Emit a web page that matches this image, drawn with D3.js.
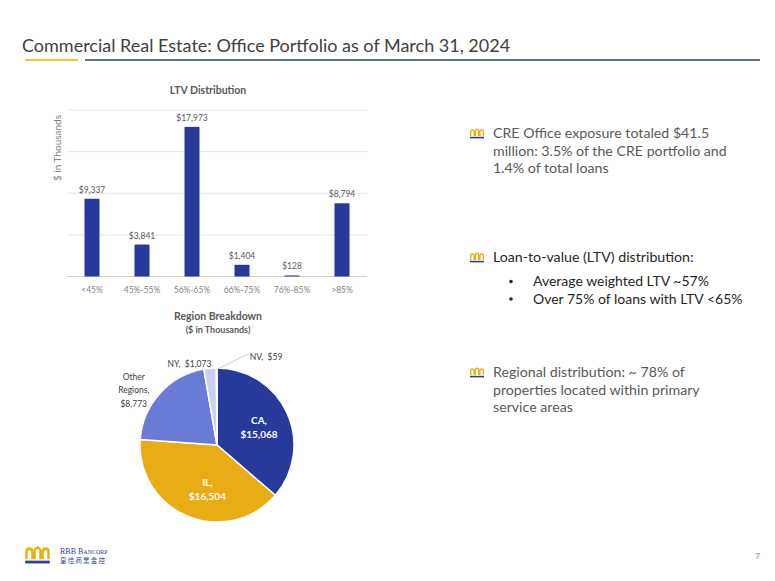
<!DOCTYPE html>
<html lang="en">
<head>
    <meta charset="utf-8">
    <title>Commercial Real Estate: Office Portfolio</title>
    <script src="https://d3js.org/d3.v7.min.js"></script>
    <style>
        body { margin: 0; background: #fff; }
        svg { display: block; font-family: Lato, "Open Sans", sans-serif; }
    </style>
</head>
<body>
    <svg id="chart" width="775" height="581"></svg>
    <script>
        // LTV distribution data ($ in thousands)
        const ltvBuckets = ["<45%", "45%-55%", "56%-65%", "66%-75%", "76%-85%", ">85%"];
        const ltvValues = [9337, 3841, 17973, 1404, 128, 8794];
        const ltvTicks = [0, 5000, 10000, 15000, 20000];

        // Region breakdown ($ in thousands)
        const regions = ["CA", "IL", "Other Regions", "NY", "NV"];
        const regionValues = [15068, 16504, 8773, 1073, 59];
        const regionColors = ["#27399a", "#e8ad14", "#6a7bd6", "#c9d0f0", "#dde2f6"];

        // Right-hand bullet text
        const bullets = [
            { lines: ["CRE Office exposure totaled $41.5", "million: 3.5% of the CRE portfolio and", "1.4% of total loans"], sub: [] },
            { lines: ["Loan-to-value (LTV) distribution:"], sub: ["Average weighted LTV ~57%", "Over 75% of loans with LTV <65%"] },
            { lines: ["Regional distribution: ~ 78% of", "properties located within primary", "service areas"], sub: [] }
        ];

        const svg = d3.select("#chart");

        // Header
        svg.append("text")
            .attr("x", 22).attr("y", 52)
            .attr("font-size", 18)
            .attr("fill", "#404040")
            .text("Commercial Real Estate: Office Portfolio as of March 31, 2024");
        svg.append("line").attr("x1", 25).attr("x2", 78).attr("y1", 60).attr("y2", 60)
            .attr("stroke", "#f2c62f").attr("stroke-width", 2);
        svg.append("line").attr("x1", 85).attr("x2", 760).attr("y1", 60).attr("y2", 60)
            .attr("stroke", "#2a3f7a").attr("stroke-width", 1.6);

        // ---- LTV bar chart ----
        const x = d3.scaleBand().domain(ltvBuckets).range([67, 367]).paddingInner(0.7).paddingOuter(0.35);
        const y = d3.scaleLinear().domain([0, 20000]).range([276.5, 110]);

        const bar = svg.append("g");
        bar.append("text")
            .attr("x", 208).attr("y", 94)
            .attr("text-anchor", "middle").attr("font-size", 10.5).attr("font-weight", "bold")
            .attr("fill", "#595959")
            .text("LTV Distribution");

        bar.append("g")
            .selectAll("line")
            .data(ltvTicks)
            .join("line")
            .attr("x1", 67).attr("x2", 367)
            .attr("y1", d => y(d)).attr("y2", d => y(d))
            .attr("stroke", d => d === 0 ? "#d0d0d0" : "#e6e6e6")
            .attr("stroke-width", 1);

        bar.append("g")
            .selectAll("rect")
            .data(ltvValues)
            .join("rect")
            .attr("x", (d, i) => x(ltvBuckets[i]))
            .attr("width", x.bandwidth())
            .attr("y", d => y(d))
            .attr("height", d => y(0) - y(d))
            .attr("fill", "#27399a");

        bar.append("g")
            .selectAll("text")
            .data(ltvValues)
            .join("text")
            .attr("x", (d, i) => x(ltvBuckets[i]) + x.bandwidth() / 2)
            .attr("y", d => y(d) - 6)
            .attr("text-anchor", "middle")
            .attr("font-size", 8.5)
            .attr("fill", "#595959")
            .text(d => "$" + d3.format(",")(d));

        const xAxis = bar.append("g")
            .attr("transform", `translate(0,${y(0)})`)
            .call(d3.axisBottom(x).tickSize(0).tickPadding(10));
        xAxis.select(".domain").remove();
        xAxis.selectAll("text")
            .attr("font-family", "Lato, sans-serif")
            .attr("font-size", 8.5)
            .attr("fill", "#7f7f7f");

        bar.append("text")
            .attr("transform", "translate(61,148) rotate(-90)")
            .attr("text-anchor", "middle")
            .attr("font-size", 10)
            .attr("fill", "#7f7f7f")
            .text("$ in Thousands");

        // ---- Region pie ----
        const cx = 217, cy = 445, r = 77;
        const pie = d3.pie().sort(null).value(d => d)(regionValues);
        const arc = d3.arc().innerRadius(0).outerRadius(r);

        const pg = svg.append("g");
        pg.append("text")
            .attr("x", 218).attr("y", 320)
            .attr("text-anchor", "middle").attr("font-size", 10.5).attr("font-weight", "bold")
            .attr("fill", "#595959")
            .text("Region Breakdown");
        pg.append("text")
            .attr("x", 218).attr("y", 333)
            .attr("text-anchor", "middle").attr("font-size", 9).attr("font-weight", "bold")
            .attr("fill", "#595959")
            .text("($ in Thousands)");

        const slices = pg.append("g").attr("transform", `translate(${cx},${cy})`);
        slices.selectAll("path")
            .data(pie)
            .join("path")
            .attr("d", arc)
            .attr("fill", (d, i) => regionColors[i])
            .attr("stroke", "#fff")
            .attr("stroke-width", 1.5);

        // labels: inside for big slices, outside for the rest
        const fmt = d => "$" + d3.format(",")(d);
        const mid = d => (d.startAngle + d.endAngle) / 2;
        const at = (d, k) => [Math.sin(mid(d)) * r * k, -Math.cos(mid(d)) * r * k];

        pie.forEach((d, i) => {
            const name = regions[i];
            if (i < 2) {
                let [lx, ly] = at(d, 0.6);
                if (name === "IL") lx += 8;
                const t = slices.append("text")
                    .attr("text-anchor", "middle")
                    .attr("font-size", 10).attr("font-weight", "bold").attr("fill", "#fff");
                t.append("tspan").attr("x", lx).attr("y", ly - 2).text(name + ",");
                t.append("tspan").attr("x", lx).attr("y", ly + 12).text(fmt(regionValues[i]));
            } else if (name === "Other Regions") {
                let [lx, ly] = at(d, 1.3);
                lx -= 9; ly += 12;
                const t = slices.append("text")
                    .attr("text-anchor", "middle")
                    .attr("font-size", 8.5).attr("fill", "#404040");
                t.append("tspan").attr("x", lx).attr("y", ly - 10).text("Other");
                t.append("tspan").attr("x", lx).attr("y", ly + 3.5).text("Regions,");
                t.append("tspan").attr("x", lx).attr("y", ly + 17).text(fmt(regionValues[i]));
            } else if (name === "NY") {
                const [lx, ly] = at(d, 1.1);
                slices.append("text")
                    .attr("x", lx - 20).attr("y", ly + 6)
                    .attr("text-anchor", "middle")
                    .attr("font-size", 8.5).attr("fill", "#404040")
                    .attr("xml:space", "preserve")
                    .text(name + ",  " + fmt(regionValues[i]));
            } else {
                const [px, py] = at(d, 0.98);
                const ex = px + 30, ey = py - 15;
                slices.append("polyline")
                    .attr("points", `${px},${py} ${ex},${ey} ${ex + 2},${ey}`)
                    .attr("fill", "none").attr("stroke", "#bfbfbf").attr("stroke-width", 0.8);
                slices.append("text")
                    .attr("x", ex + 3).attr("y", ey + 5.5)
                    .attr("font-size", 8.5).attr("fill", "#404040")
                    .attr("xml:space", "preserve")
                    .text(name + ",  " + fmt(regionValues[i]));
            }
        });

        // ---- Right-hand bullets ----
        // small gold crown with a navy base, used as bullet and in the logo
        function crown(g, cx0, cy0, s) {
            const c = g.append("g").attr("transform", `translate(${cx0},${cy0}) scale(${s})`);
            c.append("path")
                .attr("d", "M-7,3 L-7,-1.5 A2.35,2.35 0 0 1 -2.3,-1.5 A2.3,3 0 0 1 2.3,-1.5 A2.35,2.35 0 0 1 7,-1.5 L7,3 Z " +
                           "M-5.6,3 L-5.6,-1.2 A1,1 0 0 1 -3.6,-1.2 L-3.6,3 Z " +
                           "M-1,3 L-1,-1.6 A1,1.3 0 0 1 1,-1.6 L1,3 Z " +
                           "M3.6,3 L3.6,-1.2 A1,1 0 0 1 5.6,-1.2 L5.6,3 Z")
                .attr("fill", "#e9b213").attr("fill-rule", "evenodd");
            c.append("rect").attr("x", -7).attr("y", 3.8).attr("width", 14).attr("height", 1.6).attr("fill", "#2b3f96");
        }

        const rt = svg.append("g");
        const blockTops = [138, 262, 377];
        bullets.forEach((b, bi) => {
            const top = blockTops[bi];
            const col = bi === 1 ? "#262626" : "#595959";
            crown(rt, 477, top - 5, 1);
            b.lines.forEach((ln, li) => {
                rt.append("text")
                    .attr("x", 493).attr("y", top + li * 17.5)
                    .attr("font-size", 14.2).attr("fill", col)
                    .text(ln);
            });
            b.sub.forEach((ln, si) => {
                const yy = top + 24 + si * 17.5;
                rt.append("circle").attr("cx", 511).attr("cy", yy - 4.5).attr("r", 1.8).attr("fill", col);
                rt.append("text")
                    .attr("x", 533).attr("y", yy)
                    .attr("font-size", 14).attr("fill", col)
                    .text(ln);
            });
        });

        // ---- Footer ----
        crown(svg, 37.5, 554, 1.75);
        svg.append("text")
            .attr("x", 60).attr("y", 553.5)
            .attr("font-family", "'Liberation Serif', serif")
            .attr("font-size", 8).attr("fill", "#2b3f96")
            .attr("font-variant", "small-caps")
            .text("RBB Bancorp");
        svg.append("text")
            .attr("x", 60).attr("y", 563)
            .attr("font-family", "'Noto Sans CJK TC', sans-serif")
            .attr("font-size", 6.5).attr("fill", "#2b3f96")
            .attr("letter-spacing", 1.2)
            .text("皇佳商業金控");
        svg.append("text")
            .attr("x", 760).attr("y", 559)
            .attr("text-anchor", "end")
            .attr("font-size", 8).attr("fill", "#8c8c8c")
            .text("7");
    </script>
</body>
</html>
